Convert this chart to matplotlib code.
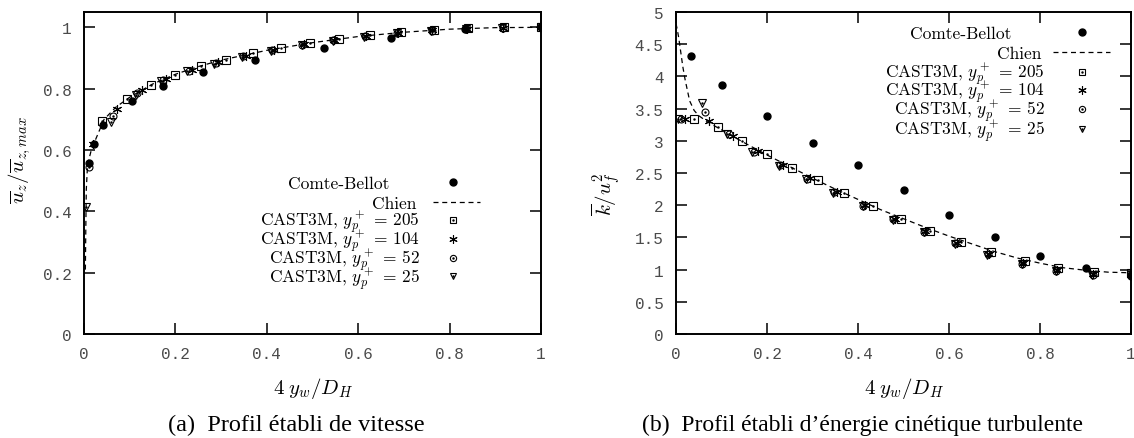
import matplotlib
matplotlib.use("Agg")
import matplotlib.pyplot as plt
from matplotlib.transforms import offset_copy

plt.rcParams['mathtext.fontset'] = 'cm'

# --- data ---
# (a) velocity profile
cb_x_u = [0.011, 0.022, 0.042, 0.105, 0.172, 0.261, 0.375, 0.525, 0.672, 0.834, 1.0]
cb_u = [0.556, 0.62, 0.68, 0.76, 0.808, 0.855, 0.893, 0.933, 0.966, 0.995, 1.0]

chien_x_u = [0.003, 0.004, 0.005, 0.007, 0.01, 0.016, 0.027, 0.044, 0.07, 0.1, 0.15,
             0.2, 0.25, 0.3, 0.4, 0.5, 0.6, 0.7, 0.8, 0.9, 1.0]
chien_u = [0.21, 0.35, 0.47, 0.53, 0.565, 0.6, 0.64, 0.70, 0.74, 0.772, 0.815,
           0.847, 0.872, 0.893, 0.925, 0.950, 0.970, 0.984, 0.994, 0.999, 1.0]

# CAST3M node positions for each mesh
x_205 = [0.040, 0.093, 0.146, 0.199, 0.255, 0.311, 0.370, 0.432, 0.495, 0.559, 0.626,
         0.693, 0.766, 0.840, 0.918, 1.0]
x_104 = [0.020, 0.073, 0.126, 0.180, 0.236, 0.294, 0.354, 0.416, 0.481, 0.548, 0.617,
         0.688, 0.762, 0.837, 0.916, 1.0]
x_52 = [0.010, 0.064, 0.117, 0.172, 0.229, 0.288, 0.348, 0.412, 0.478, 0.545, 0.614,
        0.685, 0.761, 0.836, 0.916, 1.0]
x_25 = [0.004, 0.058, 0.113, 0.168, 0.226, 0.285, 0.346, 0.410, 0.477, 0.544, 0.613,
        0.684, 0.760, 0.835, 0.915, 1.0]

u_205 = [0.695, 0.767, 0.811, 0.845, 0.874, 0.895, 0.916, 0.933, 0.950, 0.963, 0.975,
         0.984, 0.991, 0.997, 1.0, 1.0]
u_104 = [0.62, 0.735, 0.795, 0.833, 0.862, 0.886, 0.907, 0.927, 0.945, 0.959, 0.972,
         0.982, 0.990, 0.996, 0.999, 1.0]
u_52 = [0.546, 0.71, 0.785, 0.828, 0.858, 0.883, 0.905, 0.925, 0.944, 0.958, 0.971,
        0.981, 0.989, 0.995, 0.999, 1.0]
u_25 = [0.415, 0.69, 0.780, 0.825, 0.856, 0.881, 0.903, 0.923, 0.943, 0.957, 0.970,
        0.981, 0.989, 0.995, 0.999, 1.0]

# (b) turbulent kinetic energy profile
cb_x_k = [0.033, 0.1, 0.2, 0.3, 0.4, 0.5, 0.6, 0.7, 0.8, 0.9, 1.0]
cb_k = [4.31, 3.86, 3.39, 2.97, 2.63, 2.24, 1.85, 1.51, 1.21, 1.02, 0.90]

chien_x_k = [0.0, 0.003, 0.006, 0.01, 0.015, 0.02, 0.03, 0.04, 0.05, 0.07, 0.1, 0.15,
             0.2, 0.25, 0.3, 0.35, 0.4, 0.45, 0.5, 0.55, 0.6, 0.65, 0.7, 0.75, 0.8,
             0.85, 0.9, 0.95, 1.0]
chien_k = [4.82, 4.72, 4.60, 4.40, 4.15, 3.95, 3.62, 3.47, 3.39, 3.29, 3.17, 2.97,
           2.78, 2.60, 2.42, 2.25, 2.09, 1.93, 1.79, 1.65, 1.52, 1.40, 1.28, 1.18,
           1.10, 1.03, 0.99, 0.96, 0.95]

k_205 = [3.335, 3.216, 3.00, 2.79, 2.585, 2.39, 2.19, 1.99, 1.79, 1.607, 1.43, 1.266,
         1.13, 1.03, 0.966, 0.95]
k_104 = [3.335, 3.30, 3.07, 2.84, 2.63, 2.42, 2.21, 2.00, 1.79, 1.60, 1.42, 1.25,
         1.10, 0.99, 0.93, 0.92]
k_52 = [3.335, 3.44, 3.10, 2.83, 2.62, 2.41, 2.20, 1.99, 1.78, 1.59, 1.41, 1.24,
        1.09, 0.98, 0.92, 0.92]
k_25 = [3.335, 3.58, 3.11, 2.83, 2.61, 2.40, 2.19, 1.98, 1.77, 1.58, 1.40, 1.23,
        1.08, 0.98, 0.92, 0.92]

labels = ['Comte-Bellot', 'Chien',
          r'CAST3M, $y_p^+$ = 205', r'CAST3M, $y_p^+$ = 104',
          r'CAST3M, $y_p^+$ = 52', r'CAST3M, $y_p^+$ = 25']

tick_family = 'Liberation Mono'
tick_color = '#4a4a4a'

# marker styles: (marker, size)
styles = [('s', 5.5), ((6, 2, 0), 6.5), ('o', 5), ('v', 5.5)]


def draw(ax, cbx, cby, chx, chy, series, ylim, yticks, ylabel, ylab_pos, leg):
    ax.plot(cbx, cby, 'o', color='black', ms=5, zorder=5)
    ax.plot(chx, chy, color='black', lw=0.9, dashes=(4, 3), zorder=3)
    for (x, y), (m, s) in zip(series, styles):
        ax.plot(x, y, marker=m, ms=s, mfc='none', mec='black', mew=0.8,
                ls='none', zorder=4)
        ax.plot(x, y, marker='.', ms=1.5, color='black', ls='none', zorder=4)
    ax.set_xlim(0, 1)
    ax.set_ylim(*ylim)
    ax.set_xticks([0, 0.2, 0.4, 0.6, 0.8, 1])
    ax.set_xticklabels(['0', '0.2', '0.4', '0.6', '0.8', '1'])
    ax.set_yticks(yticks)
    ax.set_yticklabels(['%g' % t for t in yticks])
    for lab in ax.get_xticklabels() + ax.get_yticklabels():
        lab.set_fontfamily(tick_family)
        lab.set_fontsize(11.5)
        lab.set_color(tick_color)
    ax.tick_params(direction='in', length=8, width=1.1, top=True, right=True)
    ax.tick_params(axis='x', pad=9)
    ax.tick_params(axis='y', pad=9)
    for sp in ax.spines.values():
        sp.set_linewidth(1.4)
    ax.set_xlabel(r'$4\;y_w/D_H$', fontsize=15, va='center')
    ax.xaxis.set_label_coords(0.5, -0.165)
    ax.set_ylabel(ylabel, fontsize=15, va='center')
    ax.yaxis.set_label_coords(*ylab_pos)

    # gnuplot-like key: text, then sample
    x_texts, x_mark, x_l0, x_l1, rows = leg
    tr = offset_copy(ax.transAxes, fig=ax.figure, x=0, y=-6, units='dots')
    for i, (lab, xt, yy) in enumerate(zip(labels, x_texts, rows)):
        ax.text(xt, yy, lab, transform=tr, ha='right', va='baseline',
                family='cmr10', fontsize=12.5)
        if i == 0:
            ax.plot([x_mark], [yy], 'o', color='black', ms=5,
                    transform=ax.transAxes, clip_on=False)
        elif i == 1:
            ax.plot([x_l0, x_l1], [yy, yy], color='black', lw=0.9, dashes=(4, 3),
                    transform=ax.transAxes, clip_on=False)
        else:
            m, s = styles[i - 2]
            ax.plot([x_mark], [yy], marker=m, ms=s - 0.5, mfc='none', mec='black',
                    mew=0.8, transform=ax.transAxes, clip_on=False)
            ax.plot([x_mark], [yy], marker='.', ms=1.5, color='black',
                    transform=ax.transAxes, clip_on=False)


fig = plt.figure(figsize=(11.34, 4.39), dpi=100)
ax1 = fig.add_axes([84 / 1134, 104 / 439, 457 / 1134, 322 / 439])
ax2 = fig.add_axes([676 / 1134, 104 / 439, 455 / 1134, 322 / 439])

draw(ax1, cb_x_u, cb_u, chien_x_u, chien_u,
     [(x_205, u_205), (x_104, u_104), (x_52, u_52), (x_25, u_25)],
     (0, 1.05), [0, 0.2, 0.4, 0.6, 0.8, 1],
     r'$\overline{u}_z/\overline{u}_{z,max}$', (-0.140, 0.543),
     ([0.669, 0.728, 0.735, 0.735, 0.735, 0.735], 0.807, 0.764, 0.867,
      [0.472, 0.410, 0.354, 0.295, 0.236, 0.180]))

draw(ax2, cb_x_k, cb_k, chien_x_k, chien_k,
     [(x_205, k_205), (x_104, k_104), (x_52, k_52), (x_25, k_25)],
     (0, 5), [0, 0.5, 1, 1.5, 2, 2.5, 3, 3.5, 4, 4.5, 5],
     r'$\overline{k}/u_f^2$', (-0.154, 0.438),
     ([0.738, 0.804, 0.811, 0.811, 0.811, 0.811], 0.892, 0.829, 0.954,
      [0.938, 0.876, 0.814, 0.758, 0.699, 0.637]))

fig.text(296 / 1134, 1 - 425 / 439, '(a)  Profil établi de vitesse',
         ha='center', va='center', family='Liberation Serif', fontsize=17.5)
fig.text(863 / 1134, 1 - 425 / 439, '(b)  Profil établi d\u2019énergie cinétique turbulente',
         ha='center', va='center', family='Liberation Serif', fontsize=17)

fig.savefig('out.png', dpi=100)
